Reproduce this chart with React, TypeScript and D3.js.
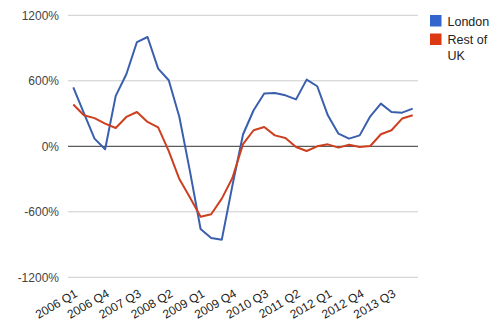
import React from "react";
import * as d3 from "d3";

const quarters: string[] = (() => {
  const out: string[] = [];
  for (let y = 2006; y <= 2014; y++) for (let q = 1; q <= 4; q++) out.push(`${y} Q${q}`);
  return out.slice(0, 33);
})();

const london = [540, 304, 70, -27, 462, 660, 955, 1001, 712, 605, 268, -230, -758, -840, -855, -360, 108, 330, 483, 488, 467, 430, 611, 550, 284, 116, 70, 100, 275, 391, 314, 308, 345];
const restOfUK = [383, 284, 258, 208, 168, 269, 314, 223, 174, -45, -300, -470, -645, -622, -479, -290, 20, 147, 177, 100, 76, -6, -43, 0, 18, -12, 15, -6, 3, 110, 147, 254, 284];
const yTicks = [-1200, -600, 0, 600, 1200];
const tickLabels = ["2006 Q1", "2006 Q4", "2007 Q3", "2008 Q2", "2009 Q1", "2009 Q4", "2010 Q3", "2011 Q2", "2012 Q1", "2012 Q4", "2013 Q3"];
const seriesNames = ["London", "Rest of UK"];

const W = 497, H = 322;
const FONT = "Arial, 'Liberation Sans', sans-serif";

export default function App() {
  const x = d3.scalePoint<string>().domain(quarters).range([68, 418]).padding(0.5);
  const y = d3.scaleLinear().domain([-1200, 1200]).range([277.3, 15.3]);
  const line = d3.line<number>().x((_, i) => x(quarters[i]) as number).y((d) => y(d));
  const colors = ["#3366cc", "#dc3912"];
  const lineColors = ["#3a5fae", "#cc4020"];

  return (
    <svg width={W} height={H} style={{ position: "absolute", left: 0, top: 0, background: "#fff" }} fontFamily={FONT}>
      <rect width={W} height={H} fill="#fff" />
      {yTicks.map((t) => (
        <g key={t}>
          <line x1={68} x2={418} y1={y(t)} y2={y(t)} stroke={t === 0 ? "#333" : "#ccc"} strokeWidth={1} />
          <text x={59} y={y(t)} dy="0.35em" textAnchor="end" fontSize={12} fill="#444">{`${t}%`}</text>
        </g>
      ))}
      {[london, restOfUK].map((s, k) => (
        <path key={k} d={line(s) || ""} fill="none" stroke={lineColors[k]} strokeWidth={2} strokeLinejoin="round" />
      ))}
      {tickLabels.map((lab) => {
        const px = x(lab) as number;
        return (
          <text key={lab} transform={`translate(${px + 5},${296}) rotate(-30)`} textAnchor="end" fontSize={12} fill="#222">{lab}</text>
        );
      })}
      <rect x={430} y={15} width={11.5} height={11.5} fill={colors[0]} />
      <text x={447.5} y={25.5} fontSize={12.5} fill="#222">{seriesNames[0]}</text>
      <rect x={430} y={33.5} width={11.5} height={11.5} fill={colors[1]} />
      <text x={447.5} y={44} fontSize={12.5} fill="#222">Rest of</text>
      <text x={447.5} y={60} fontSize={12.5} fill="#222">UK</text>
    </svg>
  );
}
